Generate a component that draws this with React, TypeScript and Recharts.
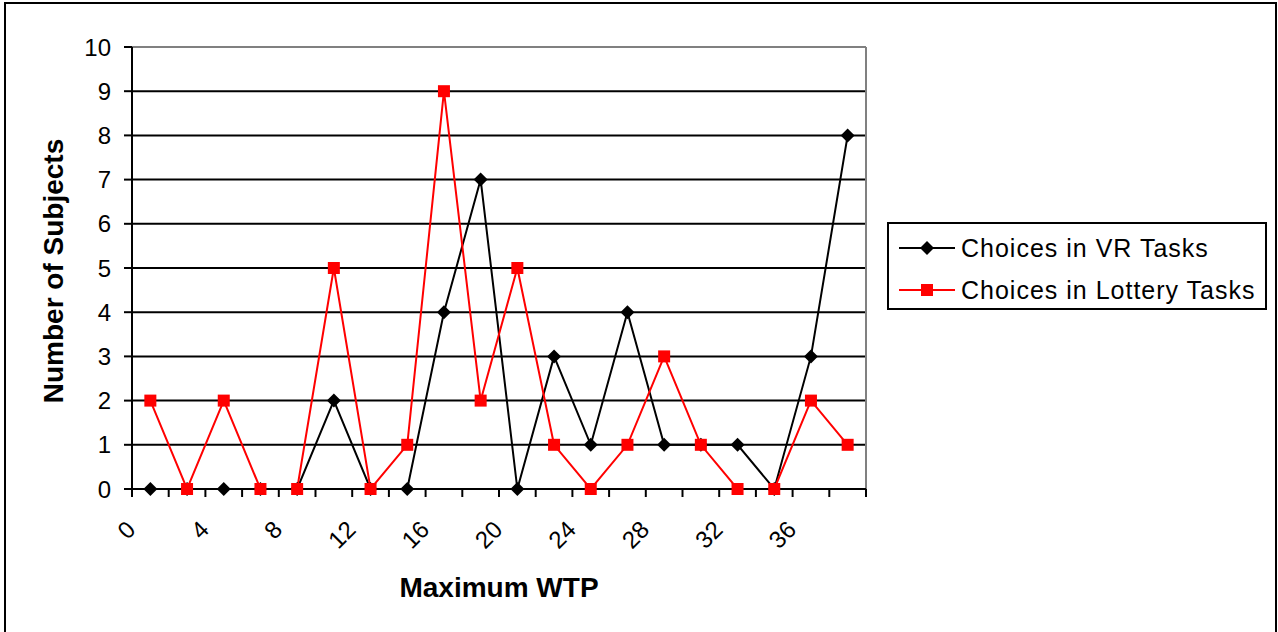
import React from 'react';
import {
  LineChart, Line, XAxis, YAxis, CartesianGrid, Legend, ReferenceLine,
} from 'recharts';

// midpoints of each 2-unit WTP bin
const wtpBins = [1, 3, 5, 7, 9, 11, 13, 15, 17, 19, 21, 23, 25, 27, 29, 31, 33, 35, 37, 39];
const vrChoices = [0, 0, 0, 0, 0, 2, 0, 0, 4, 7, 0, 3, 1, 4, 1, 1, 1, 0, 3, 8];
const lotteryChoices = [2, 0, 2, 0, 0, 5, 0, 1, 9, 2, 5, 1, 0, 1, 3, 1, 0, 0, 2, 1];

const xTicks = [0, 2, 4, 6, 8, 10, 12, 14, 16, 18, 20, 22, 24, 26, 28, 30, 32, 34, 36, 38, 40];
const yTicks = [0, 1, 2, 3, 4, 5, 6, 7, 8, 9, 10];

const data = wtpBins.map((wtp, i) => ({
  wtp,
  vr: vrChoices[i],
  lottery: lotteryChoices[i],
}));

const FONT = 'Arial, "Liberation Sans", sans-serif';

const Diamond = (props: any) => {
  const { cx, cy, key } = props;
  if (cx == null || cy == null) return <g key={key} />;
  const r = 7;
  return (
    <polygon
      key={key}
      points={`${cx},${cy - r} ${cx + r},${cy} ${cx},${cy + r} ${cx - r},${cy}`}
      fill="#000"
    />
  );
};

const Square = (props: any) => {
  const { cx, cy, key } = props;
  if (cx == null || cy == null) return <g key={key} />;
  const s = 12;
  return <rect key={key} x={cx - s / 2} y={cy - s / 2} width={s} height={s} fill="#ff0000" />;
};

// only every other tick gets a label, and none past 36
const XTick = (props: any) => {
  const { x, y, payload } = props;
  const v = payload.value;
  if (v % 4 !== 0 || v > 36) return <g />;
  const px = x + 5;
  const py = y + 34;
  return (
    <text
      x={px}
      y={py}
      textAnchor="end"
      fontSize={24}
      fontFamily={FONT}
      fill="#000"
      transform={`rotate(-45, ${px}, ${py})`}
    >
      {v}
    </text>
  );
};

const LegendBox = () => {
  const rows = [
    { label: 'Choices in VR Tasks', color: '#000', marker: 'diamond' },
    { label: 'Choices in Lottery Tasks', color: '#ff0000', marker: 'square' },
  ];
  return (
    <div style={{ width: 412, paddingLeft: 21, boxSizing: 'border-box' }}>
      <div
        style={{
          width: 380,
          height: 88,
          border: '2px solid #000',
          boxSizing: 'border-box',
          paddingTop: 3,
          fontFamily: FONT,
        }}
      >
        {rows.map((r) => (
          <div key={r.label} style={{ display: 'flex', alignItems: 'center', height: 42 }}>
            <svg width={72} height={20} style={{ flex: 'none' }}>
              <line x1={10} y1={10} x2={66} y2={10} stroke={r.color} strokeWidth={2} />
              {r.marker === 'diamond' ? (
                <polygon points="38,3 45,10 38,17 31,10" fill={r.color} />
              ) : (
                <rect x={32} y={4} width={12} height={12} fill={r.color} />
              )}
            </svg>
            <span style={{ fontSize: 25, letterSpacing: 1, whiteSpace: 'nowrap', color: '#000' }}>
              {r.label}
            </span>
          </div>
        ))}
      </div>
    </div>
  );
};

export default function App() {
  return (
    <div style={{ position: 'absolute', left: 0, top: 0, width: 1278, height: 632, background: '#fff' }}>
      <LineChart
        width={1278}
        height={632}
        data={data}
        margin={{ top: 47, right: 0, left: 32, bottom: 0 }}
      >
        <CartesianGrid vertical={false} stroke="#000" strokeWidth={2} strokeOpacity={1} />
        <XAxis
          dataKey="wtp"
          type="number"
          domain={[0, 40]}
          ticks={xTicks}
          interval={0}
          height={143}
          tickSize={8}
          tickMargin={0}
          tick={<XTick />}
          axisLine={{ stroke: '#000', strokeWidth: 2 }}
          tickLine={{ stroke: '#000', strokeWidth: 2 }}
          label={(p: any) => {
            const vb = p.viewBox;
            return (
              <text
                x={vb.x + vb.width / 2}
                y={vb.y + 108}
                textAnchor="middle"
                fontSize={28}
                fontWeight="bold"
                fontFamily={FONT}
                fill="#000"
              >
                Maximum WTP
              </text>
            );
          }}
        />
        <YAxis
          domain={[0, 10]}
          ticks={yTicks}
          interval={0}
          width={100}
          tickSize={8}
          tickMargin={13}
          tick={{ fontSize: 24, fontFamily: FONT, fill: '#000' }}
          axisLine={{ stroke: '#000', strokeWidth: 2 }}
          tickLine={{ stroke: '#000', strokeWidth: 2 }}
          label={() => (
            <text
              x={63}
              y={271}
              textAnchor="middle"
              fontSize={28}
              fontWeight="bold"
              fontFamily={FONT}
              fill="#000"
              transform="rotate(-90, 63, 271)"
            >
              Number of Subjects
            </text>
          )}
        />
        <ReferenceLine y={10} stroke="#808080" strokeWidth={2} />
        <ReferenceLine x={40} stroke="#808080" strokeWidth={2} />
        <Legend
          layout="vertical"
          align="right"
          verticalAlign="middle"
          wrapperStyle={{ top: 222, right: 0 }}
          content={<LegendBox />}
        />
        <Line
          dataKey="vr"
          name="Choices in VR Tasks"
          stroke="#000"
          strokeWidth={2}
          dot={Diamond}
          activeDot={false}
          isAnimationActive={false}
        />
        <Line
          dataKey="lottery"
          name="Choices in Lottery Tasks"
          stroke="#ff0000"
          strokeWidth={2}
          dot={Square}
          activeDot={false}
          isAnimationActive={false}
        />
      </LineChart>
      <div
        style={{
          position: 'absolute',
          left: 4,
          top: 2,
          width: 1273,
          height: 640,
          border: '2px solid #000',
          boxSizing: 'border-box',
          pointerEvents: 'none',
        }}
      />
    </div>
  );
}
